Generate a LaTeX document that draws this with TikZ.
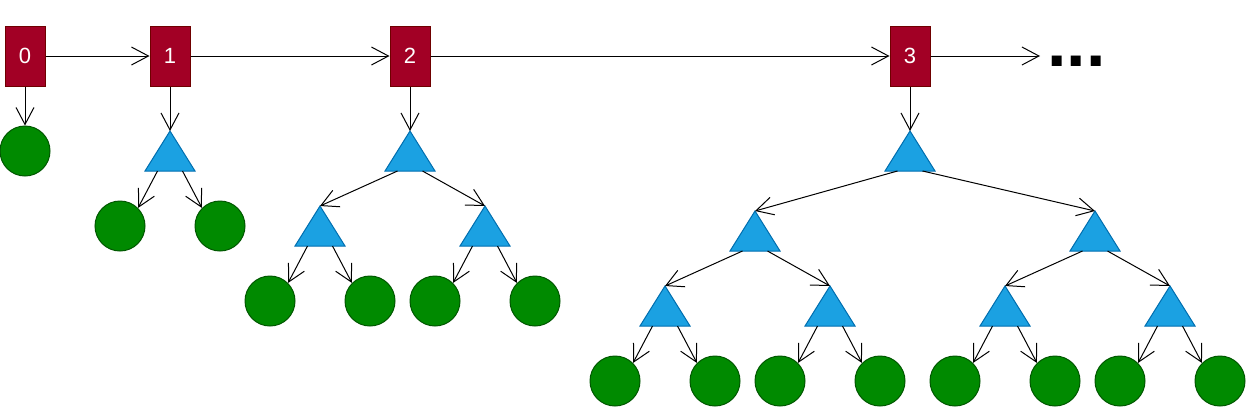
\documentclass[tikz,border=0pt]{standalone}
\usepackage{fontspec}
\setmainfont{Liberation Sans}
\usetikzlibrary{arrows.meta,calc}
\definecolor{boxfill}{HTML}{A20025}
\definecolor{boxline}{HTML}{6F0000}
\definecolor{trifill}{HTML}{1BA1E2}
\definecolor{triline}{HTML}{006EAF}
\definecolor{leaffill}{HTML}{008A00}
\definecolor{leafline}{HTML}{005700}
\tikzset{
  arr/.style={draw=black, line width=1pt, -{Straight Barb[length=17pt,width=18pt]}},
  listbox/.style={rectangle, draw=boxline, fill=boxfill, line width=1pt, minimum width=40pt, minimum height=60pt, inner sep=0pt, text=white, font=\fontsize{22}{22}\selectfont},
  tribox/.style={rectangle, minimum width=50pt, minimum height=40pt, inner sep=0pt, outer sep=0pt},
  trishape/.style={fill=trifill, draw=triline, line width=1pt, line join=miter},
  leaf/.style={circle, draw=leafline, fill=leaffill, line width=1pt, minimum size=50pt, inner sep=0pt},
  dots/.style={font=\fontsize{70}{70}\selectfont\bfseries, inner sep=0pt, anchor=base west}
}
\newcommand{\tri}[2]{%
  \node[tribox] (#1) at (#2) {};
  \filldraw[trishape] (#1.north) -- (#1.south east) -- (#1.south west) -- cycle;
  \coordinate (#1-l) at ($(#1.south west)!0.25!(#1.south east)$);
  \coordinate (#1-r) at ($(#1.south west)!0.75!(#1.south east)$);
}
\begin{document}
\begin{tikzpicture}[x=1pt, y=-1pt]
\useasboundingbox (0,0) rectangle (1246,408);
% list boxes
\node[listbox] (b0) at (25,56) {0};
\node[listbox] (b1) at (170,56) {1};
\node[listbox] (b2) at (410,56) {2};
\node[listbox] (b3) at (910,56) {3};
\coordinate (bend) at (1040,56);
\node[dots] (dd) at (1047,66) {...};
\draw[arr] (b0.east) -- (b1.west);
\draw[arr] (b1.east) -- (b2.west);
\draw[arr] (b2.east) -- (b3.west);
\draw[arr] (b3.east) -- (bend);
% tree 0
\node[leaf] (c0) at (25,151) {};
\draw[arr] (b0.south) -- (c0.north);
% tree 1
\tri{t1}{170,151}
\node[leaf] (c1a) at (120,226) {};
\node[leaf] (c1b) at (220,226) {};
\draw[arr] (b1.south) -- (t1.north);
\draw[arr] (t1-l) -- (c1a.45);
\draw[arr] (t1-r) -- (c1b.135);
% tree 2
\tri{t2}{410,151}
\tri{t2L}{320,226}
\tri{t2R}{485,226}
\node[leaf] (c2a) at (270,301) {};
\node[leaf] (c2b) at (370,301) {};
\node[leaf] (c2c) at (435,301) {};
\node[leaf] (c2d) at (535,301) {};
\draw[arr] (b2.south) -- (t2.north);
\draw[arr] (t2-l) -- (t2L.north);
\draw[arr] (t2-r) -- (t2R.north);
\draw[arr] (t2L-l) -- (c2a.45);
\draw[arr] (t2L-r) -- (c2b.135);
\draw[arr] (t2R-l) -- (c2c.45);
\draw[arr] (t2R-r) -- (c2d.135);
% tree 3
\tri{t3}{910,151}
\tri{t3L}{755,231}
\tri{t3R}{1095,231}
\tri{t3LL}{665,306}
\tri{t3LR}{830,306}
\tri{t3RL}{1005,306}
\tri{t3RR}{1170,306}
\node[leaf] (c3a) at (615,381) {};
\node[leaf] (c3b) at (715,381) {};
\node[leaf] (c3c) at (780,381) {};
\node[leaf] (c3d) at (880,381) {};
\node[leaf] (c3e) at (955,381) {};
\node[leaf] (c3f) at (1055,381) {};
\node[leaf] (c3g) at (1120,381) {};
\node[leaf] (c3h) at (1220,381) {};
\draw[arr] (b3.south) -- (t3.north);
\draw[arr] (t3-l) -- (t3L.north);
\draw[arr] (t3-r) -- (t3R.north);
\draw[arr] (t3L-l) -- (t3LL.north);
\draw[arr] (t3L-r) -- (t3LR.north);
\draw[arr] (t3R-l) -- (t3RL.north);
\draw[arr] (t3R-r) -- (t3RR.north);
\draw[arr] (t3LL-l) -- (c3a.45);
\draw[arr] (t3LL-r) -- (c3b.135);
\draw[arr] (t3LR-l) -- (c3c.45);
\draw[arr] (t3LR-r) -- (c3d.135);
\draw[arr] (t3RL-l) -- (c3e.45);
\draw[arr] (t3RL-r) -- (c3f.135);
\draw[arr] (t3RR-l) -- (c3g.45);
\draw[arr] (t3RR-r) -- (c3h.135);
\end{tikzpicture}
\end{document}
